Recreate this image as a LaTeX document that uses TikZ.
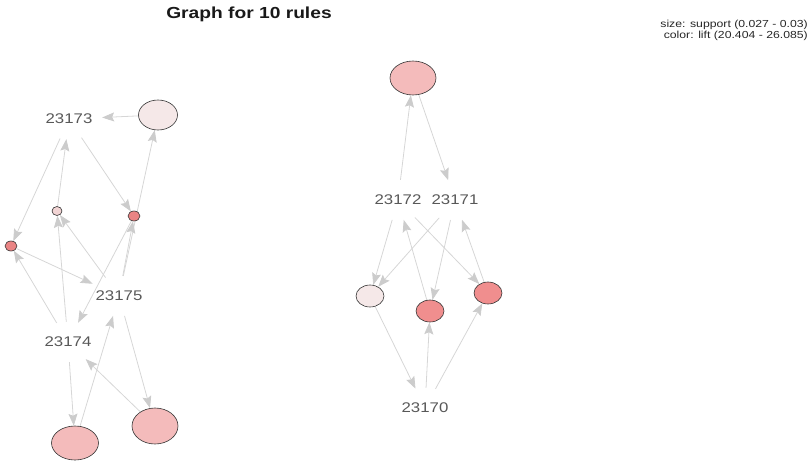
\documentclass[tikz,border=0pt]{standalone}
\usepackage{fontspec}
\setmainfont{Liberation Sans}
\usetikzlibrary{arrows.meta,shapes.geometric}
\pgfdeclarelayer{edgelayer}
\pgfsetlayers{edgelayer,main}
\definecolor{edgegray}{RGB}{214,214,214}
\definecolor{tipgray}{RGB}{204,204,204}
\definecolor{labgray}{RGB}{88,88,88}
\definecolor{cpale}{RGB}{245,232,232}
\definecolor{clight}{RGB}{242,212,212}
\definecolor{cmid}{RGB}{244,187,187}
\definecolor{cred}{RGB}{234,132,132}
\definecolor{cred2}{RGB}{240,142,142}
\newcommand{\hstr}[1]{\scalebox{1.2}[1]{#1}}
\tikzset{
  rulenode/.style={ellipse, draw=black!80, line width=0.6pt, inner sep=0pt},
  itemnode/.style={ellipse, inner sep=0pt, minimum width=60pt, minimum height=40pt,
    text=labgray, font=\fontsize{14}{16}\selectfont},
  legend/.style={anchor=base east, inner sep=0pt, font=\fontsize{10.2}{11}\selectfont, text=black!85},
  edge/.style={draw=edgegray, line width=0.8pt,
    -{Stealth[length=12pt,width=9pt,inset=2pt,color=tipgray]}},
}
\begin{document}
\begin{tikzpicture}[x=1pt,y=-1pt]
\useasboundingbox (0,0) rectangle (809,461);
% title and legend
\node[anchor=base, font=\fontsize{16}{18}\selectfont\bfseries, text=black!90] (title) at (249,18) {\hstr{Graph for 10 rules}};
\node[legend] (leg1) at (808,27.5) {\hstr{size: support (0.027 - 0.03)}};
\node[legend] (leg2) at (808,38) {\hstr{color: lift (20.404 - 26.085)}};
% item labels
\node[itemnode] (i73) at (69,119) {\hstr{23173}};
\node[itemnode] (i75) at (119,296) {\hstr{23175}};
\node[itemnode] (i74) at (68,342) {\hstr{23174}};
\node[itemnode] (i72) at (398,200) {\hstr{23172}};
\node[itemnode] (i71) at (455,200) {\hstr{23171}};
\node[itemnode] (i70) at (425,408) {\hstr{23170}};
% rule nodes
\node[rulenode, fill=cpale, minimum width=39pt, minimum height=30pt] (A) at (158,115) {};
\node[rulenode, fill=clight, minimum width=10pt, minimum height=9pt] (B) at (57,211) {};
\node[rulenode, fill=cred, minimum width=12pt, minimum height=10pt] (C) at (134,216) {};
\node[rulenode, fill=cred, minimum width=12pt, minimum height=10pt] (D) at (11,246) {};
\node[rulenode, fill=cmid, minimum width=47pt, minimum height=34pt] (E) at (75,443) {};
\node[rulenode, fill=cmid, minimum width=46pt, minimum height=36pt] (F) at (155,426) {};
\node[rulenode, fill=cmid, minimum width=46pt, minimum height=34pt] (G) at (413,78) {};
\node[rulenode, fill=cpale, minimum width=28pt, minimum height=22pt] (H) at (370,296) {};
\node[rulenode, fill=cred2, minimum width=28pt, minimum height=22pt] (I) at (430,311) {};
\node[rulenode, fill=cred2, minimum width=28pt, minimum height=22pt] (J) at (488,293) {};
\begin{pgfonlayer}{edgelayer}
% left component
\draw[edge] (A) -- (i73);
\draw[edge] (i73) -- (D);
\draw[edge] (i73) -- (C);
\draw[edge] (i75) -- (A);
\draw[edge] (B) -- (i73);
\draw[edge] (i74) -- (B);
\draw[edge] (i75) -- (B);
\draw[edge] (i75) -- (C);
\draw[edge] (C) -- (i74);
\draw[edge] (i74) -- (D);
\draw[edge] (D) -- (i75);
\draw[edge] (i74) -- (E);
\draw[edge] (E) -- (i75);
\draw[edge] (i75) -- (F);
\draw[edge] (F) -- (i74);
% right component
\draw[edge] (i72) -- (G);
\draw[edge] (G) -- (i71);
\draw[edge] (i72) -- (H);
\draw[edge] (i71) -- (H);
\draw[edge] (I) -- (i72);
\draw[edge] (i71) -- (I);
\draw[edge] (i72) -- (J);
\draw[edge] (J) -- (i71);
\draw[edge] (H) -- (i70);
\draw[edge] (i70) -- (I);
\draw[edge] (i70) -- (J);
\end{pgfonlayer}
\end{tikzpicture}
\end{document}
